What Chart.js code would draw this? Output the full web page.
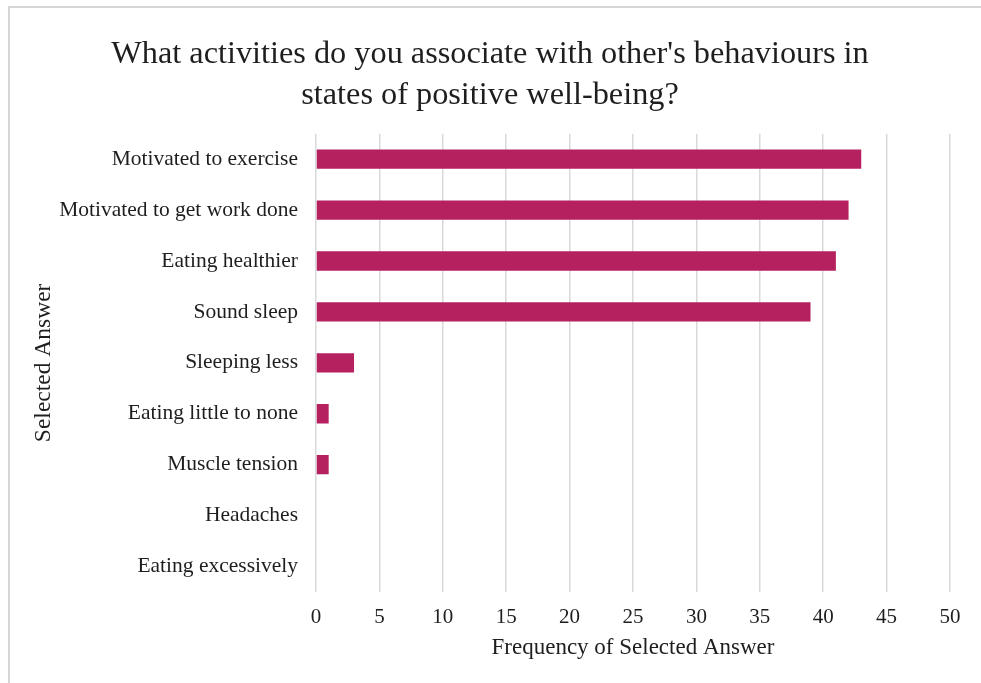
<!DOCTYPE html>
<html>
<head>
<meta charset="utf-8">
<script src="https://cdn.jsdelivr.net/npm/chart.js@4"></script>
<style>
  html, body { margin: 0; padding: 0; background: #fff; overflow: hidden; }
  #frame {
    position: absolute; left: 8px; top: 6px; width: 1000px; height: 700px;
    border-left: 2px solid #d6d6d6; border-top: 2px solid #d6d6d6;
  }
  #wrap { position: absolute; left: 0; top: 0; width: 981px; height: 683px; }
</style>
</head>
<body>
<div id="frame"></div>
<div id="wrap"><canvas id="chart"></canvas></div>
<script>
/* survey answers, top to bottom as listed */
const answers = [
  'Motivated to exercise',
  'Motivated to get work done',
  'Eating healthier',
  'Sound sleep',
  'Sleeping less',
  'Eating little to none',
  'Muscle tension',
  'Headaches',
  'Eating excessively',
];
const frequency = [43, 42, 41, 39, 3, 1, 1, 0, 0];

const titleLines = [
  "What activities do you associate with other's behaviours in",
  'states of positive well-being?',
];

const serif = "'Liberation Serif', 'Times New Roman', serif";
const ink = '#1e1e1e';

new Chart(document.getElementById('chart'), {
  type: 'bar',
  data: {
    labels: answers,
    datasets: [{
      data: frequency,
      backgroundColor: '#b5215f',
      borderWidth: 0,
      categoryPercentage: 1,
      barPercentage: 0.38,
    }],
  },
  options: {
    indexAxis: 'y',
    responsive: true,
    maintainAspectRatio: false,
    animation: false,
    layout: { padding: { left: 30, right: 31, top: 0, bottom: 21 } },
    plugins: {
      legend: { display: false },
      tooltip: { enabled: false },
      title: {
        display: true,
        text: titleLines,
        color: ink,
        font: { family: serif, size: 32.3, weight: 'normal', lineHeight: 1.28 },
        padding: { top: 34, bottom: 17 },
      },
    },
    scales: {
      x: {
        min: 0,
        max: 50,
        // fixed band under the plot for tick labels and the axis title
        afterFit: s => { s.height = 70; },
        ticks: {
          stepSize: 5,
          color: ink,
          padding: 13,
          maxRotation: 0,
          font: { family: serif, size: 21 },
        },
        grid: { color: '#d9d9d9', lineWidth: 1.5, drawTicks: false },
        border: { display: false },
        title: {
          display: true,
          text: 'Frequency of Selected Answer',
          color: ink,
          font: { family: serif, size: 23 },
          padding: { top: 0, bottom: 0 },
        },
      },
      y: {
        afterFit: s => { s.width = 286; },
        ticks: {
          color: ink,
          padding: 18,
          autoSkip: false,
          font: { family: serif, size: 21.5 },
        },
        grid: { display: false, drawTicks: false },
        border: { display: false },
        title: {
          display: true,
          text: 'Selected Answer',
          color: ink,
          font: { family: serif, size: 23.5 },
          padding: { top: 0, bottom: 2 },
        },
      },
    },
  },
});
</script>
</body>
</html>
